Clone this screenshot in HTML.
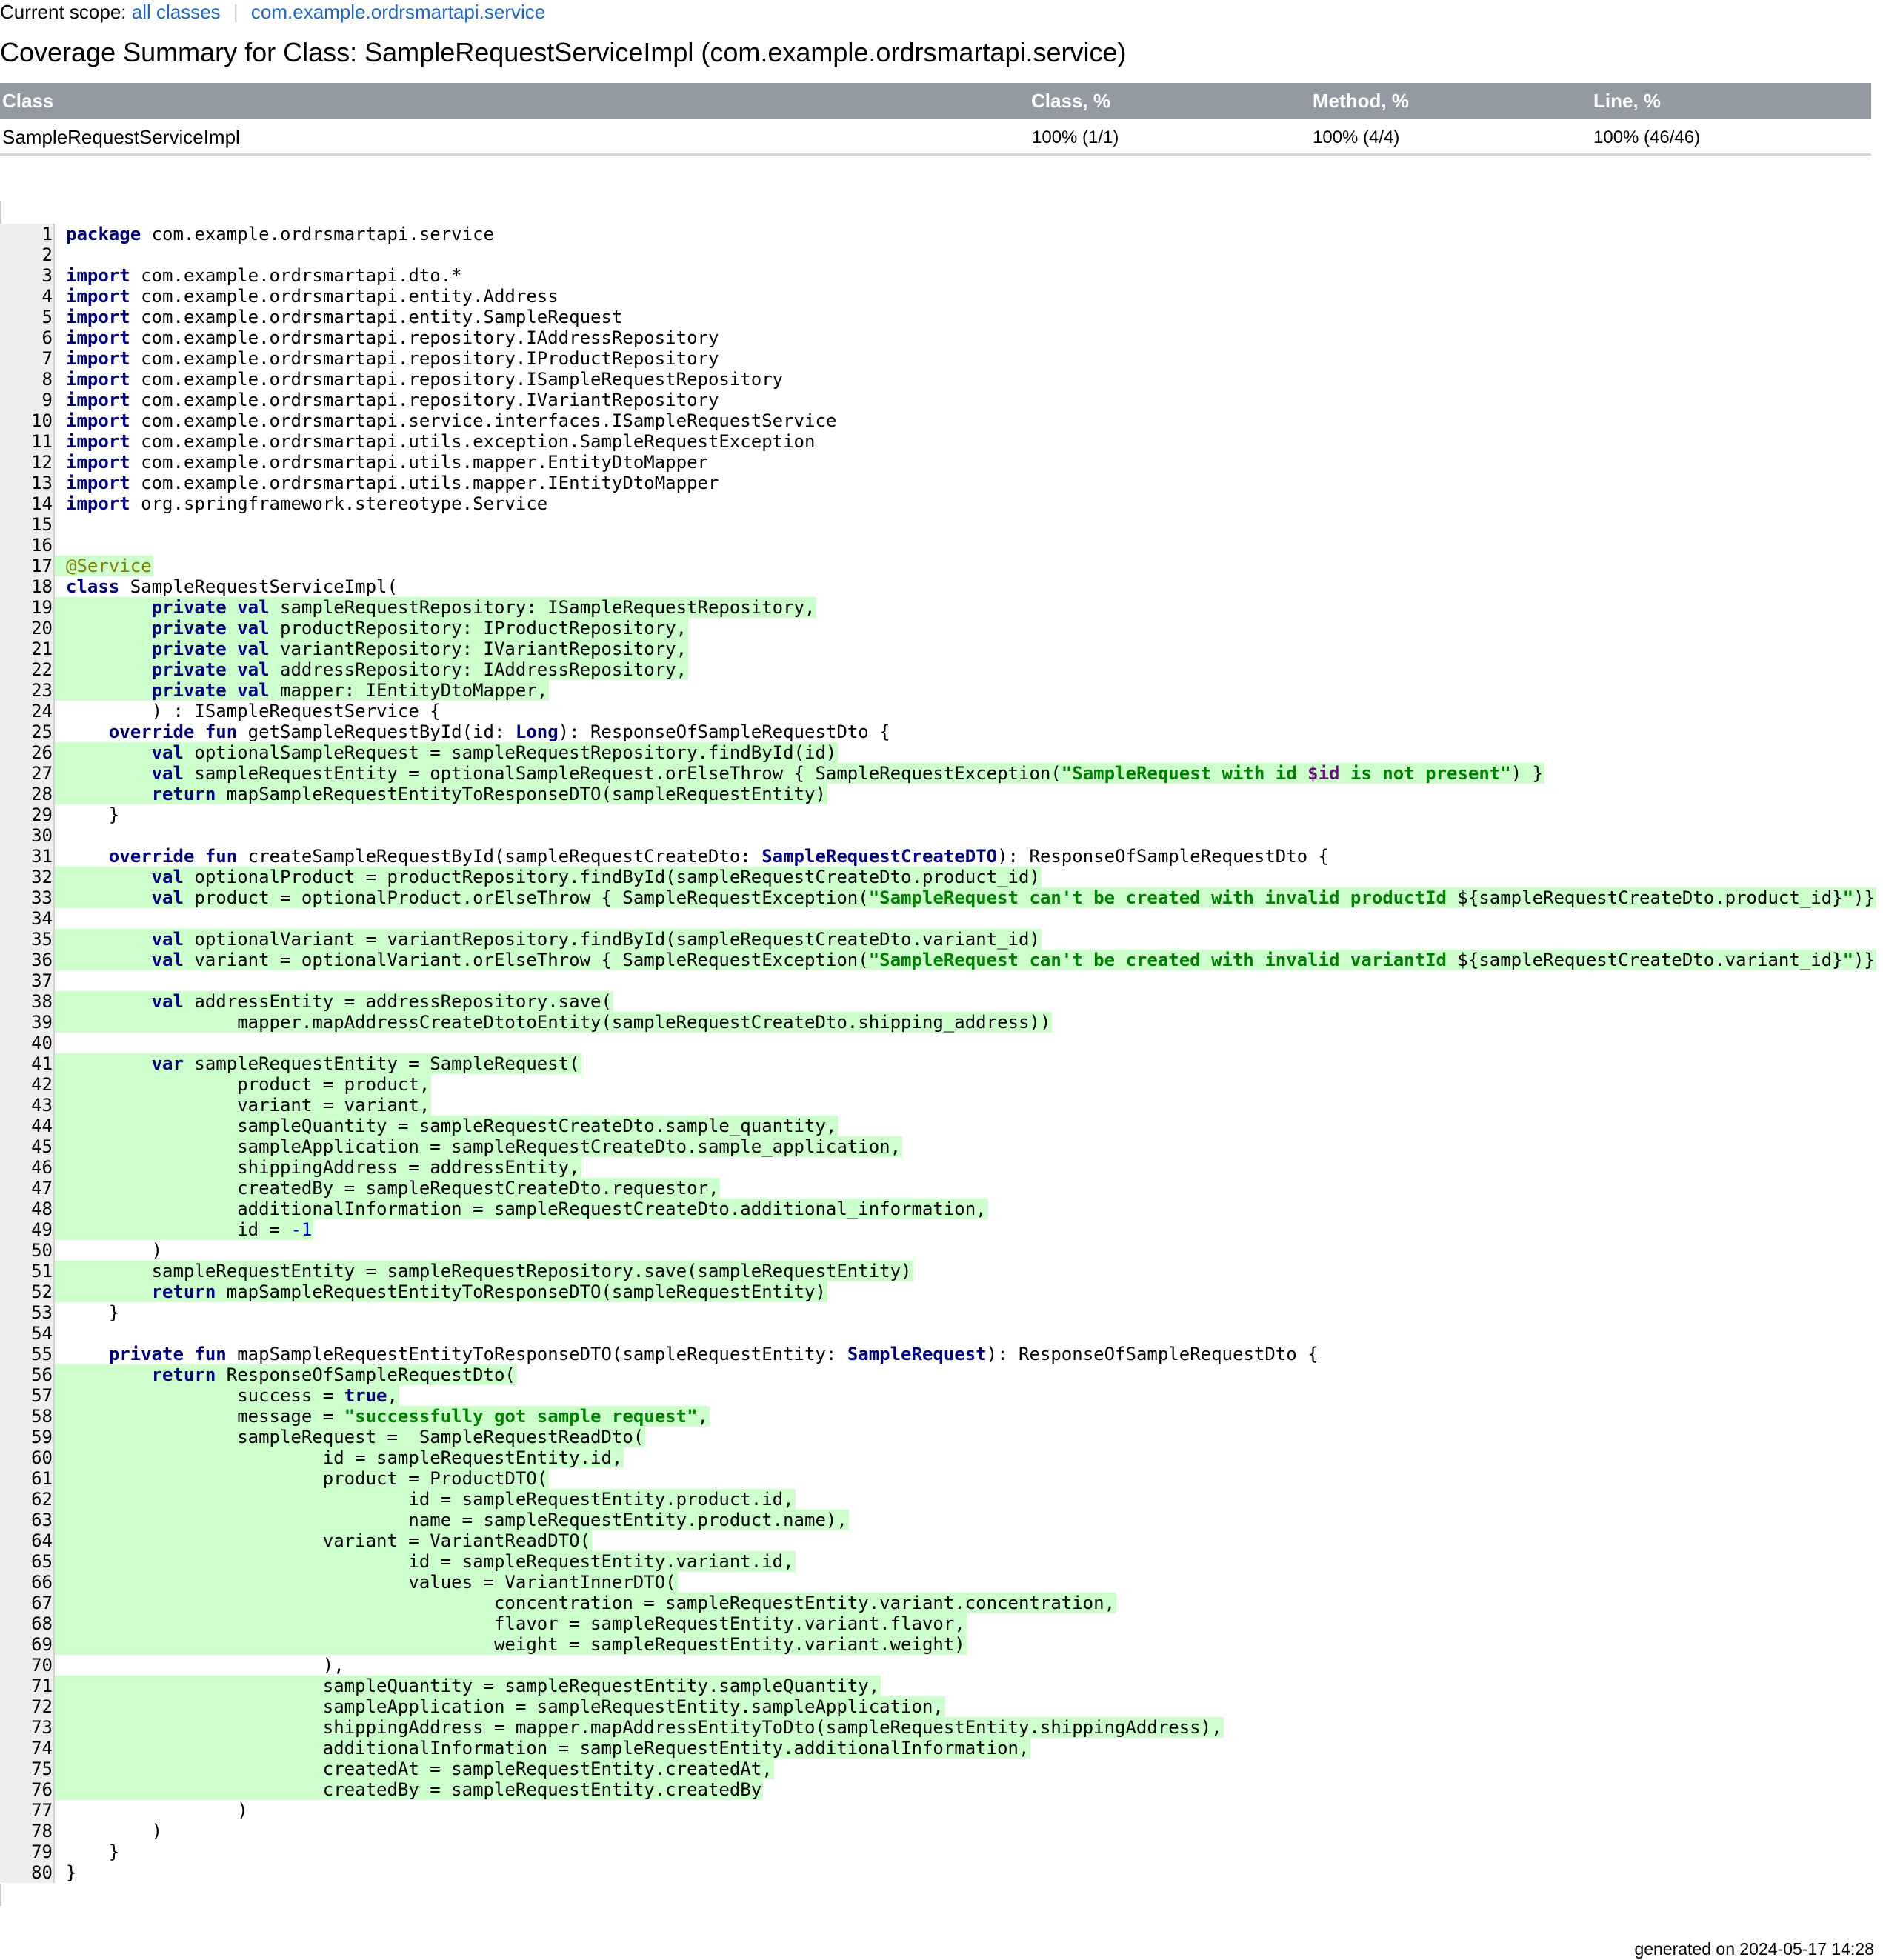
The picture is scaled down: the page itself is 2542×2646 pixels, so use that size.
<!DOCTYPE html>
<html><head><meta charset="utf-8">
<style>
html,body{margin:0;padding:0;background:#fff;width:2542px;height:2646px;overflow:hidden;position:relative}
body{font-family:"Liberation Sans",Arial,sans-serif;color:#000}
.a{position:absolute;white-space:nowrap}
.lnk{color:#2165c9}
#code{position:absolute;left:0;top:302px;font-family:"DejaVu Sans Mono","Liberation Mono",monospace;font-size:24px}
.l{height:28px;line-height:28px;white-space:pre;display:flex}
.n{display:inline-block;width:71px;padding-right:1px;text-align:right;background:#eee;border-right:2px solid #d0d0d0;height:28px}
.c{display:inline-block;padding-left:15px;padding-right:2px;height:28px}
.g{background:#ccffcc}
.k{color:#000080;font-weight:bold}
.s{color:#008000;font-weight:bold}
.t{color:#660e7a;font-weight:bold}
.an{color:#808000}
.num{color:#0000ff}
</style></head><body>
<div class="a" style="left:0;top:1px;font-size:26px;line-height:30px">Current scope: <span class="lnk">all classes</span><span style="color:#ccc;padding:0 10px"> | </span><span class="lnk">com.example.ordrsmartapi.service</span></div>
<div class="a" style="left:0;top:50px;font-size:36px;line-height:42px">Coverage Summary for Class: SampleRequestServiceImpl (com.example.ordrsmartapi.service)</div>
<div class="a" style="left:0;top:112px;width:2526px;height:48px;background:#939aa4"></div>
<div class="a" style="left:3px;top:121px;font-size:26px;line-height:30px;color:#fff;font-weight:bold">Class</div>
<div class="a" style="left:1392px;top:121px;font-size:26px;line-height:30px;color:#fff;font-weight:bold">Class, %</div>
<div class="a" style="left:1772px;top:121px;font-size:26px;line-height:30px;color:#fff;font-weight:bold">Method, %</div>
<div class="a" style="left:2151px;top:121px;font-size:26px;line-height:30px;color:#fff;font-weight:bold">Line, %</div>
<div class="a" style="left:3px;top:170px;font-size:26px;line-height:30px">SampleRequestServiceImpl</div>
<div class="a" style="left:1393px;top:171px;font-size:24px;line-height:30px">100% (1/1)</div>
<div class="a" style="left:1772px;top:171px;font-size:24px;line-height:30px">100% (4/4)</div>
<div class="a" style="left:2151px;top:171px;font-size:24px;line-height:30px">100% (46/46)</div>
<div class="a" style="left:0;top:207px;width:2526px;height:3px;background:#d6d6d6"></div>
<div class="a" style="left:0;top:272px;width:2px;height:31px;background:#ccc"></div>
<div class="a" style="left:0;top:2543px;width:2px;height:30px;background:#ccc"></div>
<div id="code">
<div class="l"><span class="n">1</span><span class="c"><span class="k">package</span> com.example.ordrsmartapi.service</span></div>
<div class="l"><span class="n">2</span><span class="c"></span></div>
<div class="l"><span class="n">3</span><span class="c"><span class="k">import</span> com.example.ordrsmartapi.dto.*</span></div>
<div class="l"><span class="n">4</span><span class="c"><span class="k">import</span> com.example.ordrsmartapi.entity.Address</span></div>
<div class="l"><span class="n">5</span><span class="c"><span class="k">import</span> com.example.ordrsmartapi.entity.SampleRequest</span></div>
<div class="l"><span class="n">6</span><span class="c"><span class="k">import</span> com.example.ordrsmartapi.repository.IAddressRepository</span></div>
<div class="l"><span class="n">7</span><span class="c"><span class="k">import</span> com.example.ordrsmartapi.repository.IProductRepository</span></div>
<div class="l"><span class="n">8</span><span class="c"><span class="k">import</span> com.example.ordrsmartapi.repository.ISampleRequestRepository</span></div>
<div class="l"><span class="n">9</span><span class="c"><span class="k">import</span> com.example.ordrsmartapi.repository.IVariantRepository</span></div>
<div class="l"><span class="n">10</span><span class="c"><span class="k">import</span> com.example.ordrsmartapi.service.interfaces.ISampleRequestService</span></div>
<div class="l"><span class="n">11</span><span class="c"><span class="k">import</span> com.example.ordrsmartapi.utils.exception.SampleRequestException</span></div>
<div class="l"><span class="n">12</span><span class="c"><span class="k">import</span> com.example.ordrsmartapi.utils.mapper.EntityDtoMapper</span></div>
<div class="l"><span class="n">13</span><span class="c"><span class="k">import</span> com.example.ordrsmartapi.utils.mapper.IEntityDtoMapper</span></div>
<div class="l"><span class="n">14</span><span class="c"><span class="k">import</span> org.springframework.stereotype.Service</span></div>
<div class="l"><span class="n">15</span><span class="c"></span></div>
<div class="l"><span class="n">16</span><span class="c"></span></div>
<div class="l"><span class="n">17</span><span class="c g"><span class="an">@Service</span></span></div>
<div class="l"><span class="n">18</span><span class="c"><span class="k">class</span> SampleRequestServiceImpl(</span></div>
<div class="l"><span class="n">19</span><span class="c g">        <span class="k">private val</span> sampleRequestRepository: ISampleRequestRepository,</span></div>
<div class="l"><span class="n">20</span><span class="c g">        <span class="k">private val</span> productRepository: IProductRepository,</span></div>
<div class="l"><span class="n">21</span><span class="c g">        <span class="k">private val</span> variantRepository: IVariantRepository,</span></div>
<div class="l"><span class="n">22</span><span class="c g">        <span class="k">private val</span> addressRepository: IAddressRepository,</span></div>
<div class="l"><span class="n">23</span><span class="c g">        <span class="k">private val</span> mapper: IEntityDtoMapper,</span></div>
<div class="l"><span class="n">24</span><span class="c">        ) : ISampleRequestService {</span></div>
<div class="l"><span class="n">25</span><span class="c">    <span class="k">override fun</span> getSampleRequestById(id: <span class="k">Long</span>): ResponseOfSampleRequestDto {</span></div>
<div class="l"><span class="n">26</span><span class="c g">        <span class="k">val</span> optionalSampleRequest = sampleRequestRepository.findById(id)</span></div>
<div class="l"><span class="n">27</span><span class="c g">        <span class="k">val</span> sampleRequestEntity = optionalSampleRequest.orElseThrow { SampleRequestException(<span class="s">"SampleRequest with id </span><span class="t">$id</span><span class="s"> is not present"</span>) }</span></div>
<div class="l"><span class="n">28</span><span class="c g">        <span class="k">return</span> mapSampleRequestEntityToResponseDTO(sampleRequestEntity)</span></div>
<div class="l"><span class="n">29</span><span class="c">    }</span></div>
<div class="l"><span class="n">30</span><span class="c"></span></div>
<div class="l"><span class="n">31</span><span class="c">    <span class="k">override fun</span> createSampleRequestById(sampleRequestCreateDto: <span class="k">SampleRequestCreateDTO</span>): ResponseOfSampleRequestDto {</span></div>
<div class="l"><span class="n">32</span><span class="c g">        <span class="k">val</span> optionalProduct = productRepository.findById(sampleRequestCreateDto.product_id)</span></div>
<div class="l"><span class="n">33</span><span class="c g">        <span class="k">val</span> product = optionalProduct.orElseThrow { SampleRequestException(<span class="s">"SampleRequest can't be created with invalid productId </span>${sampleRequestCreateDto.product_id}<span class="s">"</span>)}</span></div>
<div class="l"><span class="n">34</span><span class="c"></span></div>
<div class="l"><span class="n">35</span><span class="c g">        <span class="k">val</span> optionalVariant = variantRepository.findById(sampleRequestCreateDto.variant_id)</span></div>
<div class="l"><span class="n">36</span><span class="c g">        <span class="k">val</span> variant = optionalVariant.orElseThrow { SampleRequestException(<span class="s">"SampleRequest can't be created with invalid variantId </span>${sampleRequestCreateDto.variant_id}<span class="s">"</span>)}</span></div>
<div class="l"><span class="n">37</span><span class="c"></span></div>
<div class="l"><span class="n">38</span><span class="c g">        <span class="k">val</span> addressEntity = addressRepository.save(</span></div>
<div class="l"><span class="n">39</span><span class="c g">                mapper.mapAddressCreateDtotoEntity(sampleRequestCreateDto.shipping_address))</span></div>
<div class="l"><span class="n">40</span><span class="c"></span></div>
<div class="l"><span class="n">41</span><span class="c g">        <span class="k">var</span> sampleRequestEntity = SampleRequest(</span></div>
<div class="l"><span class="n">42</span><span class="c g">                product = product,</span></div>
<div class="l"><span class="n">43</span><span class="c g">                variant = variant,</span></div>
<div class="l"><span class="n">44</span><span class="c g">                sampleQuantity = sampleRequestCreateDto.sample_quantity,</span></div>
<div class="l"><span class="n">45</span><span class="c g">                sampleApplication = sampleRequestCreateDto.sample_application,</span></div>
<div class="l"><span class="n">46</span><span class="c g">                shippingAddress = addressEntity,</span></div>
<div class="l"><span class="n">47</span><span class="c g">                createdBy = sampleRequestCreateDto.requestor,</span></div>
<div class="l"><span class="n">48</span><span class="c g">                additionalInformation = sampleRequestCreateDto.additional_information,</span></div>
<div class="l"><span class="n">49</span><span class="c g">                id = <span class="num">-1</span></span></div>
<div class="l"><span class="n">50</span><span class="c">        )</span></div>
<div class="l"><span class="n">51</span><span class="c g">        sampleRequestEntity = sampleRequestRepository.save(sampleRequestEntity)</span></div>
<div class="l"><span class="n">52</span><span class="c g">        <span class="k">return</span> mapSampleRequestEntityToResponseDTO(sampleRequestEntity)</span></div>
<div class="l"><span class="n">53</span><span class="c">    }</span></div>
<div class="l"><span class="n">54</span><span class="c"></span></div>
<div class="l"><span class="n">55</span><span class="c">    <span class="k">private fun</span> mapSampleRequestEntityToResponseDTO(sampleRequestEntity: <span class="k">SampleRequest</span>): ResponseOfSampleRequestDto {</span></div>
<div class="l"><span class="n">56</span><span class="c g">        <span class="k">return</span> ResponseOfSampleRequestDto(</span></div>
<div class="l"><span class="n">57</span><span class="c g">                success = <span class="k">true</span>,</span></div>
<div class="l"><span class="n">58</span><span class="c g">                message = <span class="s">"successfully got sample request"</span>,</span></div>
<div class="l"><span class="n">59</span><span class="c g">                sampleRequest =  SampleRequestReadDto(</span></div>
<div class="l"><span class="n">60</span><span class="c g">                        id = sampleRequestEntity.id,</span></div>
<div class="l"><span class="n">61</span><span class="c g">                        product = ProductDTO(</span></div>
<div class="l"><span class="n">62</span><span class="c g">                                id = sampleRequestEntity.product.id,</span></div>
<div class="l"><span class="n">63</span><span class="c g">                                name = sampleRequestEntity.product.name),</span></div>
<div class="l"><span class="n">64</span><span class="c g">                        variant = VariantReadDTO(</span></div>
<div class="l"><span class="n">65</span><span class="c g">                                id = sampleRequestEntity.variant.id,</span></div>
<div class="l"><span class="n">66</span><span class="c g">                                values = VariantInnerDTO(</span></div>
<div class="l"><span class="n">67</span><span class="c g">                                        concentration = sampleRequestEntity.variant.concentration,</span></div>
<div class="l"><span class="n">68</span><span class="c g">                                        flavor = sampleRequestEntity.variant.flavor,</span></div>
<div class="l"><span class="n">69</span><span class="c g">                                        weight = sampleRequestEntity.variant.weight)</span></div>
<div class="l"><span class="n">70</span><span class="c">                        ),</span></div>
<div class="l"><span class="n">71</span><span class="c g">                        sampleQuantity = sampleRequestEntity.sampleQuantity,</span></div>
<div class="l"><span class="n">72</span><span class="c g">                        sampleApplication = sampleRequestEntity.sampleApplication,</span></div>
<div class="l"><span class="n">73</span><span class="c g">                        shippingAddress = mapper.mapAddressEntityToDto(sampleRequestEntity.shippingAddress),</span></div>
<div class="l"><span class="n">74</span><span class="c g">                        additionalInformation = sampleRequestEntity.additionalInformation,</span></div>
<div class="l"><span class="n">75</span><span class="c g">                        createdAt = sampleRequestEntity.createdAt,</span></div>
<div class="l"><span class="n">76</span><span class="c g">                        createdBy = sampleRequestEntity.createdBy</span></div>
<div class="l"><span class="n">77</span><span class="c">                )</span></div>
<div class="l"><span class="n">78</span><span class="c">        )</span></div>
<div class="l"><span class="n">79</span><span class="c">    }</span></div>
<div class="l"><span class="n">80</span><span class="c">}</span></div>
</div>
<div class="a" style="right:12px;top:2617px;font-size:23px;line-height:28px">generated on 2024-05-17 14:28</div>
</body></html>
